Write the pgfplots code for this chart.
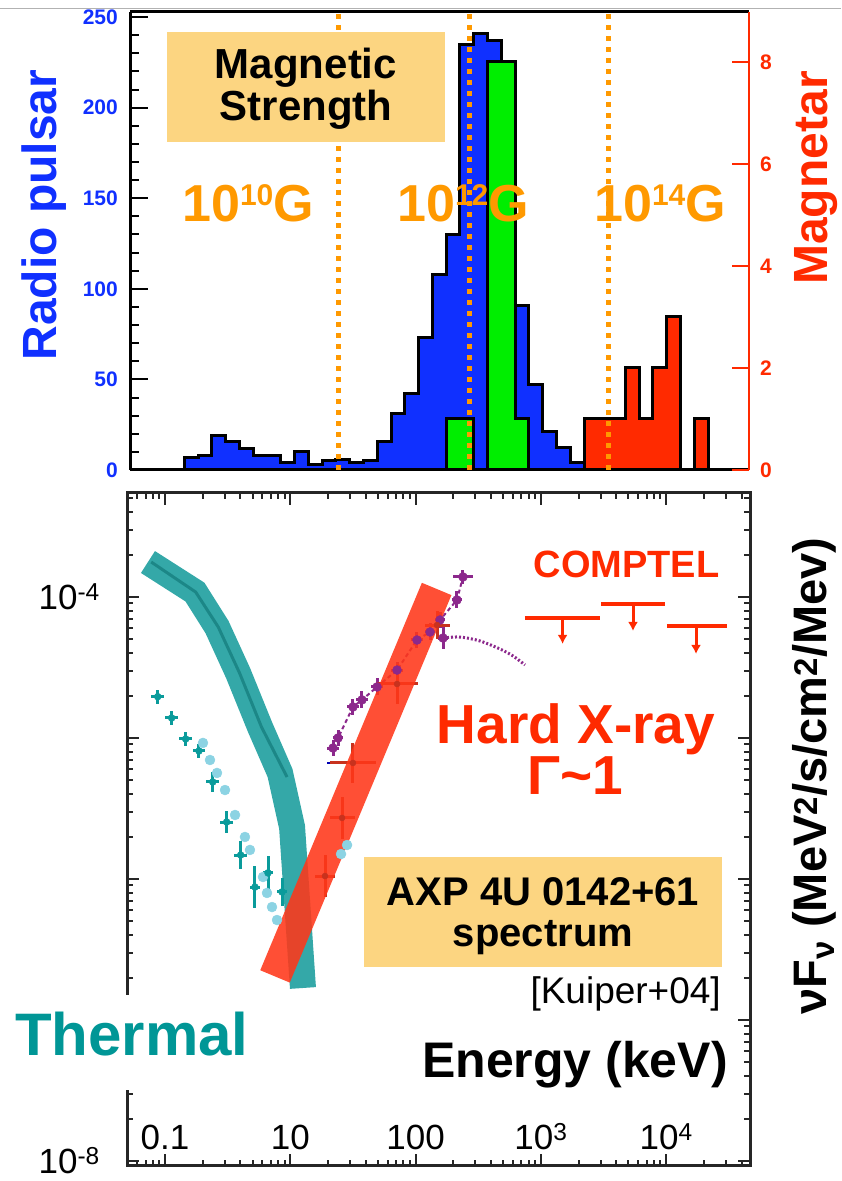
\documentclass[border=0pt]{standalone}
\usepackage{pgfplots}
\pgfplotsset{compat=1.18}
\usepackage{fontspec}
\setmainfont{Liberation Sans}
\usetikzlibrary{arrows.meta}
\definecolor{pblue}{HTML}{1030FF}
\definecolor{pred}{HTML}{FF2A00}
\definecolor{pgreen}{HTML}{00EE00}
\definecolor{porange}{HTML}{FF9900}
\definecolor{pbox}{HTML}{FCD581}
\definecolor{tealband}{HTML}{34A8A8}
\definecolor{tealtext}{HTML}{009696}
\definecolor{tealdark}{HTML}{0A9B9B}
\definecolor{lcyan}{HTML}{8CD3E3}
\definecolor{ppurple}{HTML}{8C288C}
\definecolor{bandred}{HTML}{FF3719}
\definecolor{dred}{HTML}{C8321E}
\newcommand{\fs}[1]{\fontsize{#1}{#1}\selectfont}

\begin{document}
\begin{tikzpicture}[x=1pt,y=1pt]
\useasboundingbox (0,0) rectangle (841,1181);
\draw[gray!60, line width=1pt] (0,1172) -- (841,1172);

% ---------------- top panel: radio pulsars (left scale)
\begin{axis}[at={(130pt,711pt)}, anchor=south west, scale only axis,
  width=619pt, height=458pt,
  xmin=-3.94, xmax=40.97, ymin=0, ymax=252.8,
  axis x line*=box, axis y line*=left,
  axis line style={black, line width=3pt},
  tick align=inside, major tick length=18pt, minor tick length=9pt,
  tick style={black, line width=2pt},
  xtick=\empty, minor xtick={-3,-2,...,40}, xtick pos=left,
  ytick={0,50,100,150,200,250}, minor ytick={10,20,...,240}, ytick pos=left,
  yticklabels={0,50,100,150,200,250},
  yticklabel style={font=\fs{21}\bfseries, text=pblue, anchor=east, inner sep=0pt, xshift=-12pt},
]
\addplot[const plot, fill=pblue, draw=black, line width=3pt] coordinates {
(0,7) (1,8) (2,19) (3,16) (4,12) (5,8) (6,8) (7,4) (8,10) (9,3) (10,5) (11,6) (12,4) (13,5)
(14,16) (15,31) (16,42) (17,73) (18,108) (19,130) (20,235) (21,241) (22,237) (23,164)
(24,91) (25,47) (26,21) (27,12.5) (28,4) (29,1.5) (30,1) (31,1) (32,0)} \closedcycle;
\end{axis}

% ---------------- top panel: magnetars (right scale)
\begin{axis}[at={(130pt,711pt)}, anchor=south west, scale only axis,
  width=619pt, height=458pt,
  xmin=-3.94, xmax=40.97, ymin=0, ymax=8.98,
  axis x line=none, axis y line*=right,
  y axis line style={pred, line width=2pt},
  tick align=inside, major tick length=17pt,
  tick style={pred, line width=2pt},
  xtick=\empty, ytick={0,2,4,6,8}, yticklabels={0,2,4,6,8}, ytick pos=right,
  yticklabel style={font=\fs{21}\bfseries, text=pred, anchor=west, inner sep=0pt, xshift=11pt},
]
\addplot[const plot, fill=pgreen, draw=black, line width=3pt] coordinates {
(19,1) (20,1) (21,0) (22,8) (23,8) (24,1) (25,1)} \closedcycle;
\addplot[const plot, fill=pred, draw=black, line width=3pt] coordinates {
(29,1) (30,1) (31,1) (32,2) (33,1) (34,2) (35,3) (36,0) (37,1) (38,1)} \closedcycle;
\end{axis}

% field labels
\node[font=\fs{52}\bfseries, text=porange, anchor=base] at (248,959) {10\raisebox{16pt}{\fs{30}10}G};
\node[font=\fs{52}\bfseries, text=porange, anchor=base] at (463,959) {10\raisebox{16pt}{\fs{30}12}G};
\node[font=\fs{52}\bfseries, text=porange, anchor=base] at (660,959) {10\raisebox{16pt}{\fs{30}14}G};

% dotted field boundaries
\begin{axis}[at={(130pt,711pt)}, anchor=south west, scale only axis,
  width=619pt, height=458pt, xmin=-3.94, xmax=40.97, ymin=0, ymax=8.98, hide axis]
\addplot[porange, line width=4.5pt, dash pattern=on 5pt off 6pt] coordinates {(11.17,0) (11.17,8.98)};
\addplot[porange, line width=4.5pt, dash pattern=on 5pt off 6pt] coordinates {(20.70,0) (20.70,8.98)};
\addplot[porange, line width=4.5pt, dash pattern=on 5pt off 6pt] coordinates {(30.77,0) (30.77,8.98)};
\end{axis}

\fill[pbox] (167,1039) rectangle (445,1149);
\node[font=\fs{42}\bfseries, align=center, inner sep=0pt] at (306,1092) {Magnetic\\Strength};
\node[font=\fs{48}\bfseries, text=pblue, rotate=90] at (44.5,966) {Radio pulsar};
\node[font=\fs{48}\bfseries, text=pred, rotate=90] at (816,1003) {Magnetar};

% ---------------- bottom panel: spectrum (log10 units)
\begin{axis}[at={(127pt,15pt)}, anchor=south west, scale only axis,
  width=623pt, height=673pt,
  xmin=-0.3033, xmax=4.6688, ymin=-8.0355, ymax=-3.2624,
  axis line style={black!85, line width=3pt},
  tick align=inside, major tick length=12pt, minor tick length=6pt,
  tick style={black!85, line width=2pt},
  xtick={0,1,2,3,4},
  xticklabels={0.1,10,100,10\textsuperscript{3},10\textsuperscript{4}},
  minor xtick={-0.222,-0.155,-0.097,-0.046,
    0.301,0.477,0.602,0.699,0.778,0.845,0.903,0.954,
    1.301,1.477,1.602,1.699,1.778,1.845,1.903,1.954,
    2.301,2.477,2.602,2.699,2.778,2.845,2.903,2.954,
    3.301,3.477,3.602,3.699,3.778,3.845,3.903,3.954,
    4.301,4.477,4.602},
  ytick={-8,-7,-6,-5,-4},
  yticklabels={10\textsuperscript{-8},,,,10\textsuperscript{-4}},
  minor ytick={-7.699,-7.523,-7.398,-7.301,-7.222,-7.155,-7.097,-7.046,
    -6.699,-6.523,-6.398,-6.301,-6.222,-6.155,-6.097,-6.046,
    -5.699,-5.523,-5.398,-5.301,-5.222,-5.155,-5.097,-5.046,
    -4.699,-4.523,-4.398,-4.301,-4.222,-4.155,-4.097,-4.046,
    -3.699,-3.523,-3.398,-3.301},
  xtick pos=both, ytick pos=both,
  xticklabel style={font=\fs{35}, anchor=base, yshift=16pt},
  yticklabel style={font=\fs{35}, anchor=east, inner sep=0pt, xshift=-27pt},
]
% thermal band
\addplot[tealband, line width=26pt, line join=miter] coordinates {
(-0.136,-3.752) (0.239,-3.965) (0.415,-4.213) (0.583,-4.539) (0.758,-4.922)
(0.918,-5.248) (1.014,-5.631) (1.101,-6.773)};
\addplot[teal!75!black, line width=3pt, opacity=0.45] coordinates {
(-0.110,-3.752) (0.245,-3.965) (0.425,-4.213) (0.595,-4.539) (0.770,-4.922) (0.974,-5.277)};
% light cyan data
\addplot[lcyan, only marks, mark=*, mark size=5pt, mark options={draw=none, fill=lcyan}] table {
x y
0.303 -5.035
0.359 -5.156
0.415 -5.248
0.479 -5.369
0.559 -5.546
0.638 -5.702
0.678 -5.794
0.782 -5.986
0.814 -6.099
0.854 -6.199
0.894 -6.291
1.405 -5.823
1.453 -5.759
};
% teal data with error bars
\addplot[tealdark, only marks, mark=*, mark size=3.5pt, mark options={draw=none, fill=tealdark},
  error bars/.cd, x dir=both, x explicit, y dir=both, y explicit,
  error bar style={line width=3pt, tealdark}, error mark=none]
  table[x=x, y=y, x error=ex, y error=ey] {
x y ex ey
-0.058 -4.707 0.05 0.05
0.053 -4.858 0.05 0.05
0.165 -5.007 0.05 0.05
0.271 -5.092 0.05 0.05
0.381 -5.312 0.05 0.07
0.492 -5.596 0.05 0.08
0.604 -5.830 0.05 0.10
0.718 -6.057 0.04 0.15
0.822 -5.957 0.04 0.12
0.934 -6.092 0.04 0.10
};
% purple data
\addplot[ppurple, line width=2pt, dash pattern=on 4pt off 3pt] coordinates {
(1.341,-5.071) (1.381,-5.000) (1.500,-4.780) (1.572,-4.730) (1.692,-4.638) (1.852,-4.518)
(2.011,-4.305) (2.115,-4.248) (2.195,-4.163) (2.330,-4.021) (2.378,-3.858)};
\addplot[ppurple, line width=3pt, dash pattern=on 2pt off 2pt, smooth] coordinates {
(2.219,-4.291) (2.354,-4.284) (2.514,-4.312) (2.674,-4.369) (2.777,-4.418) (2.873,-4.482)};
\addplot[ppurple, only marks, mark=*, mark size=4.5pt, mark options={draw=none, fill=ppurple},
  error bars/.cd, x dir=both, x explicit, y dir=both, y explicit,
  error bar style={line width=3pt, ppurple}, error mark=none]
  table[x=x, y=y, x error=ex, y error=ey] {
x y ex ey
1.341 -5.071 0.05 0.06
1.381 -5.000 0.04 0.06
1.500 -4.780 0.05 0.06
1.572 -4.730 0.05 0.06
1.692 -4.638 0.05 0.06
1.852 -4.518 0.05 0.06
2.011 -4.305 0.05 0.06
2.115 -4.248 0.04 0.06
2.195 -4.163 0.04 0.06
2.219 -4.291 0.04 0.08
2.330 -4.021 0.04 0.06
2.378 -3.858 0.08 0.05
};
\addplot[blue!70!black, line width=2.5pt] coordinates {(1.293,-5.177) (1.476,-5.177)};
% hard X-ray points under the band
\addplot[dred, only marks, mark=*, mark size=3pt, mark options={draw=none, fill=dred},
  error bars/.cd, x dir=both, x explicit, y dir=both, y explicit,
  error bar style={line width=3pt, dred}, error mark=none]
  table[x=x, y=y, x error=ex, y error=ey] {
x y ex ey
1.277 -5.979 0.08 0.15
1.413 -5.567 0.10 0.15
1.500 -5.177 0.18 0.14
1.852 -4.617 0.17 0.14
2.171 -4.199 0.10 0.10
};
% hard X-ray power law band
\addplot[bandred, draw opacity=0.88, line width=32pt] coordinates {(0.878,-6.691) (2.168,-3.943)};
% COMPTEL upper limits
\addplot[pred, line width=4pt] coordinates {(2.873,-4.149) (3.472,-4.149)};
\addplot[pred, line width=4pt] coordinates {(3.480,-4.050) (3.990,-4.050)};
\addplot[pred, line width=4pt] coordinates {(4.006,-4.206) (4.485,-4.206)};
\addplot[pred, line width=3pt, -{Latex[length=9pt,width=10pt]},
  quiver={u=\thisrow{u}, v=\thisrow{v}}] table {
x y u v
3.173 -4.149 0 -0.184
3.735 -4.050 0 -0.191
4.238 -4.206 0 -0.198
};
\end{axis}

% hide left axis behind labels
\fill[white] (108,91) rectangle (146,186);

\node[font=\fs{38}\bfseries, text=pred, anchor=base] at (626.5,603) {COMPTEL};
\node[font=\fs{55}\bfseries, text=pred, anchor=base, inner sep=0pt] at (576,437) {Hard X-ray};
\node[font=\fs{55}\bfseries, text=pred, anchor=base, inner sep=0pt] at (575,386) {Γ\textasciitilde 1};
\fill[pbox] (364,214) rectangle (722,324);
\node[font=\fs{40}\bfseries, anchor=base] at (543,275) {AXP 4U 0142+61};
\node[font=\fs{40}\bfseries, anchor=base] at (543,234) {spectrum};
\node[font=\fs{37}, anchor=base east, inner sep=0pt] at (721,177) {[Kuiper+04]};
\node[font=\fs{60}\bfseries, text=tealtext, anchor=base west, inner sep=0pt] at (15,125) {Thermal};
\node[font=\fs{50}\bfseries, anchor=base east, inner sep=0pt] at (728,103) {Energy (keV)};
\node[font=\fs{47}\bfseries, rotate=90] at (814,405) {νF\textsubscript{ν} (MeV\textsuperscript{2}/s/cm\textsuperscript{2}/Mev)};
\end{tikzpicture}
\end{document}
